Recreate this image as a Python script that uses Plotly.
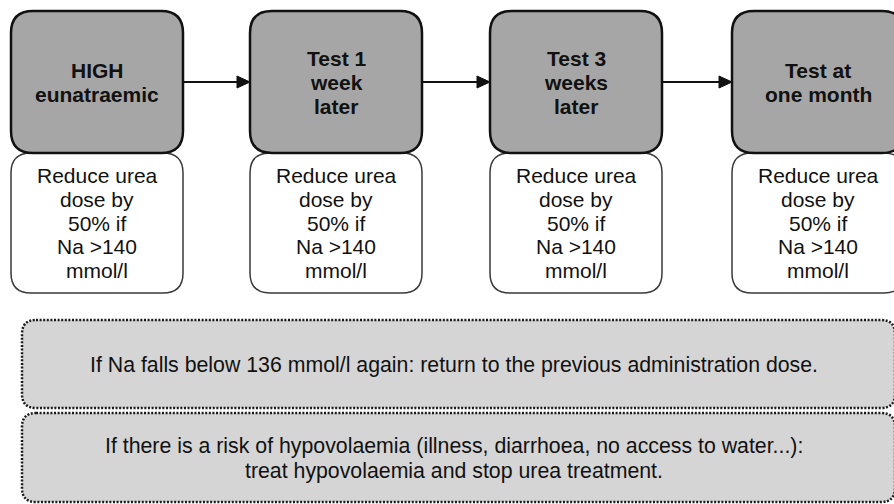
import plotly.graph_objects as go

# ---- data (text content) ----
step_titles = [
    ["HIGH", "eunatraemic"],
    ["Test 1", "week", "later"],
    ["Test 3", "weeks", "later"],
    ["Test at", "one month"],
]
step_actions = [
    ["Reduce urea", "dose by", "50% if", "Na >140", "mmol/l"],
    ["Reduce urea", "dose by", "50% if", "Na >140", "mmol/l"],
    ["Reduce urea", "dose by", "50% if", "Na >140", "mmol/l"],
    ["Reduce urea", "dose by", "50% if", "Na >140", "mmol/l"],
]
notes = [
    ["If Na falls below 136 mmol/l again: return to the previous administration dose."],
    ["If there is a risk of hypovolaemia (illness, diarrhoea, no access to water...):",
     "treat hypovolaemia and stop urea treatment."],
]

# ---- layout geometry ----
W, H = 894, 504
box_left = [11, 250, 490, 732]
box_w = 172
top_y0, top_y1 = 11, 153
bot_y0, bot_y1 = 153, 293
note_boxes = [(22, 320, 895, 408), (22, 413, 895, 502)]
FONT = "Liberation Sans, Arial, Helvetica, sans-serif"


def rrect(x0, y0, x1, y1, r):
    return (f"M {x0+r},{y0} L {x1-r},{y0} Q {x1},{y0} {x1},{y0+r} "
            f"L {x1},{y1-r} Q {x1},{y1} {x1-r},{y1} L {x0+r},{y1} "
            f"Q {x0},{y1} {x0},{y1-r} L {x0},{y0+r} Q {x0},{y0} {x0+r},{y0} Z")


shapes = []
annotations = []

for i, (titles, actions) in enumerate(zip(step_titles, step_actions)):
    x0 = box_left[i]
    x1 = x0 + box_w
    cx = (x0 + x1) / 2
    shapes.append(dict(type="path", path=rrect(x0, bot_y0, x1, bot_y1, 20),
                       xref="x", yref="y", fillcolor="white",
                       line=dict(color="#3a3a3a", width=1.5), layer="above"))
    shapes.append(dict(type="path", path=rrect(x0, top_y0, x1, top_y1, 22),
                       xref="x", yref="y", fillcolor="#a6a6a6",
                       line=dict(color="#111111", width=2.5), layer="above"))
    lh = 24
    cy = (top_y0 + top_y1) / 2
    n = len(titles)
    for k, t in enumerate(titles):
        annotations.append(dict(x=cx, y=cy + (k - (n - 1) / 2) * lh, text=f"<b>{t}</b>",
                                showarrow=False, xref="x", yref="y",
                                font=dict(family=FONT, size=21, color="#111111")))
    lh2 = 23.6
    cy2 = (bot_y0 + bot_y1) / 2
    n2 = len(actions)
    for k, t in enumerate(actions):
        annotations.append(dict(x=cx, y=cy2 + (k - (n2 - 1) / 2) * lh2, text=t,
                                showarrow=False, xref="x", yref="y",
                                font=dict(family=FONT, size=21, color="#111111")))
    if i < len(step_titles) - 1:
        ay = 82
        nx = box_left[i + 1]
        shapes.append(dict(type="line", x0=x1, x1=nx - 10, y0=ay, y1=ay,
                           xref="x", yref="y", line=dict(color="#111111", width=2)))
        shapes.append(dict(type="path",
                           path=f"M {nx-13},{ay-6} L {nx},{ay} L {nx-13},{ay+6} Z",
                           xref="x", yref="y", fillcolor="#111111",
                           line=dict(color="#111111", width=1)))

for (x0, y0, x1, y1), lines in zip(note_boxes, notes):
    shapes.append(dict(type="path", path=rrect(x0, y0, x1, y1, 14),
                       xref="x", yref="y", fillcolor="#d5d5d5",
                       line=dict(color="#1a1a1a", width=2.5, dash="2px,1.6px")))
    cx = 454
    cy = (y0 + y1) / 2 + 1
    n = len(lines)
    for k, t in enumerate(lines):
        annotations.append(dict(x=cx, y=cy + (k - (n - 1) / 2) * 25, text=t,
                                showarrow=False, xref="x", yref="y",
                                font=dict(family=FONT, size=21.3, color="#111111")))

fig = go.Figure()
fig.update_layout(
    width=W, height=H,
    margin=dict(l=0, r=0, t=0, b=0),
    paper_bgcolor="white", plot_bgcolor="white",
    xaxis=dict(range=[0, W], visible=False, fixedrange=True),
    yaxis=dict(range=[H, 0], visible=False, fixedrange=True),
    shapes=shapes, annotations=annotations, showlegend=False,
)
fig.write_html(
    "out.html",
    config={"displayModeBar": False},
    post_script="document.body.style.margin='0';document.body.style.overflow='hidden';",
)
